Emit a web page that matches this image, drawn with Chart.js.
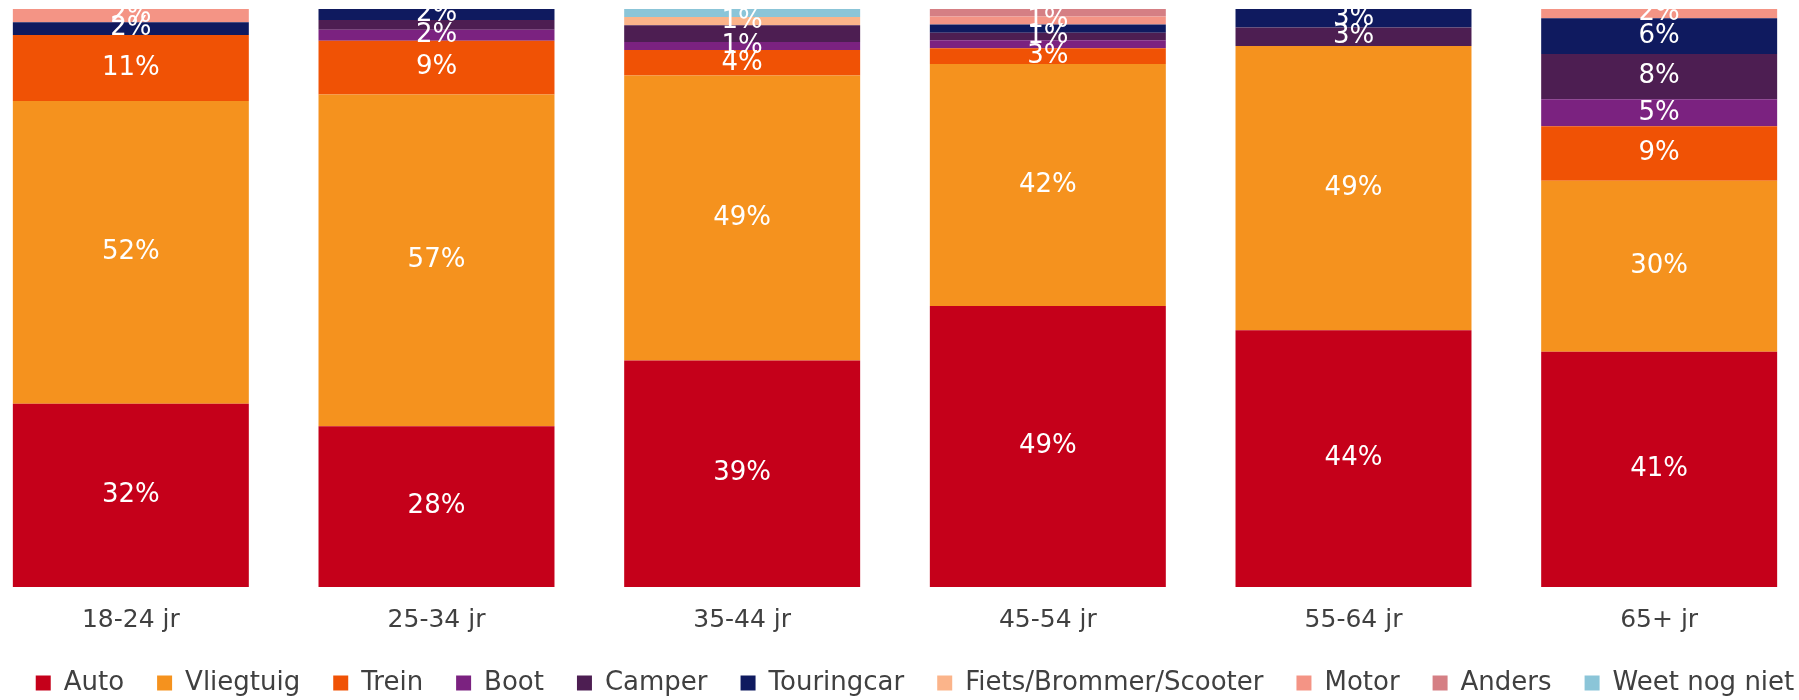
<!DOCTYPE html>
<html>
<head>
<meta charset="utf-8">
<script src="https://cdn.jsdelivr.net/npm/chart.js@4.4.0/dist/chart.umd.min.js"></script>
<style>
  html, body { margin:0; padding:0; background:#fff; overflow:hidden; }
  /* plot runs past the left/right edges of the window, like the original crop */
  #wrap { position:absolute; left:-22px; top:0; width:1834px; height:706px; }
</style>
</head>
<body>
<div id="wrap"><canvas id="chart"></canvas></div>
<script>
// age groups
const categories = ['18-24 jr', '25-34 jr', '35-44 jr', '45-54 jr', '55-64 jr', '65+ jr'];

// share per mode of transport (%)
const auto       = [31.7, 27.8, 39.2, 48.6, 44.4, 40.7];
const vliegtuig  = [52.4, 57.4, 49.3, 41.9, 49.2, 29.6];
const trein      = [11.4,  9.3,  4.4,  2.7,  0,    9.4];
const boot       = [ 0,    1.9,  1.4,  1.4,  0,    4.7];
const camper     = [ 0,    1.7,  2.9,  1.3,  3.2,  7.8];
const touringcar = [ 2.2,  1.9,  0,    1.4,  3.2,  6.2];
const fiets      = [ 0,    0,    1.4,  0,    0,    0  ];
const motor      = [ 2.3,  0,    0,    1.4,  0,    1.6];
const anders     = [ 0,    0,    0,    1.3,  0,    0  ];
const weetNiet   = [ 0,    0,    1.4,  0,    0,    0  ];

const series = [
  {label:'Auto', data:auto, color:'#C5001A'},
  {label:'Vliegtuig', data:vliegtuig, color:'#F5921E'},
  {label:'Trein', data:trein, color:'#F05205'},
  {label:'Boot', data:boot, color:'#7B2280'},
  {label:'Camper', data:camper, color:'#4D1E52'},
  {label:'Touringcar', data:touringcar, color:'#0F1A5F'},
  {label:'Fiets/Brommer/Scooter', data:fiets, color:'#FBB48A'},
  {label:'Motor', data:motor, color:'#F49485'},
  {label:'Anders', data:anders, color:'#D57F84'},
  {label:'Weet nog niet', data:weetNiet, color:'#8BC5D8'}
];

const FONT = 'DejaVu Sans';

// white % labels in the middle of each segment; a label too close to the one below it is left out
const segLabels = {
  id:'segLabels',
  afterDatasetsDraw(chart){
    const ctx = chart.ctx;
    ctx.save();
    ctx.fillStyle = '#fff';
    ctx.font = '26px "' + FONT + '"';
    ctx.textAlign = 'center';
    ctx.textBaseline = 'middle';
    categories.forEach((c, i)=>{
      let last = null;
      chart.data.datasets.forEach((ds, d)=>{
        const v = ds.data[i];
        if(!v) return;
        const el = chart.getDatasetMeta(d).data[i];
        const p = el.getProps(['x','y','base'], true);
        const mid = (p.y + p.base) / 2;
        if(last !== null && Math.abs(last - mid) < 12.7) return;
        ctx.fillText(Math.round(v) + '%', p.x, mid);
        last = mid;
      });
    });
    ctx.restore();
  }
};

// legend sits a little right of the plot centre in the original
const legendShift = {
  id:'legendShift',
  afterLayout(chart){
    chart.legend.left += 20;
    chart.legend.right += 20;
  }
};

new Chart(document.getElementById('chart'), {
  type:'bar',
  data:{
    labels: categories,
    datasets: series.map(s=>({
      label:s.label, data:s.data, backgroundColor:s.color, borderWidth:0,
      categoryPercentage:1, barPercentage:0.772
    }))
  },
  options:{
    responsive:true, maintainAspectRatio:false, animation:false, devicePixelRatio:1,
    layout:{ padding:{ top:9, left:0, right:0, bottom:0 } },
    scales:{
      x:{ stacked:true, grid:{display:false, drawTicks:false}, border:{display:false},
          ticks:{ color:'#404040', font:{family:FONT, size:25}, padding:18 },
          afterFit(scale){ scale.height = 50; } },
      y:{ stacked:true, min:0, max:100, display:false }
    },
    plugins:{
      legend:{ position:'bottom',
        labels:{ color:'#404040', font:{family:FONT, size:26}, boxWidth:15, boxHeight:15, padding:33 } },
      tooltip:{ enabled:false }
    }
  },
  plugins:[segLabels, legendShift]
});
</script>
</body>
</html>
